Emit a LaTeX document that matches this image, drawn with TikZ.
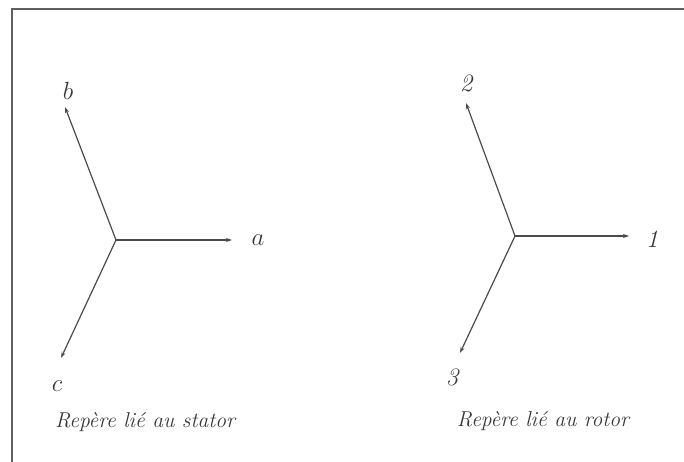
\documentclass[tikz,border=0pt]{standalone}
\usetikzlibrary{arrows.meta}
\definecolor{ink}{RGB}{75,75,75}
\definecolor{txt}{RGB}{55,55,60}
\definecolor{frame}{RGB}{95,95,100}
\begin{document}
\begin{tikzpicture}[x=1pt,y=-1pt,
  axis/.style={draw=ink,line width=1.2pt,-{Stealth[length=6pt,width=4pt]}},
  lbl/.style={text=txt,inner sep=0pt,font=\fontsize{25}{27}\selectfont},
  caption/.style={text=txt,inner sep=0pt,font=\fontsize{21.5}{24}\selectfont\itshape}]
\useasboundingbox (0,0) rectangle (684,462);
\draw[frame,line width=1.6pt] (12,462) -- (12,9) -- (684,9);
% stator
\coordinate (O1) at (116,240);
\coordinate (A) at (232,240);
\coordinate (B) at (65,107);
\coordinate (C) at (61,358);
\draw[axis] (O1) -- (A);
\draw[axis] (O1) -- (B);
\draw[axis] (O1) -- (C);
\node[lbl] (la) at (258,240) {$a$};
\node[lbl] (lb) at (68,91) {$b$};
\node[lbl] (lc) at (57,386) {$c$};
\node[caption] (cap1) at (145,422) {Repère lié au stator};
% rotor
\coordinate (O2) at (515,236);
\coordinate (R1) at (629,236);
\coordinate (R2) at (466,103);
\coordinate (R3) at (460,353);
\draw[axis] (O2) -- (R1);
\draw[axis] (O2) -- (R2);
\draw[axis] (O2) -- (R3);
\node[lbl] (l1) at (652,239) {\itshape 1};
\node[lbl] (l2) at (466,83) {\itshape 2};
\node[lbl] (l3) at (452,377) {\itshape 3};
\node[caption] (cap2) at (543,421) {Repère lié au rotor};
\end{tikzpicture}
\end{document}
